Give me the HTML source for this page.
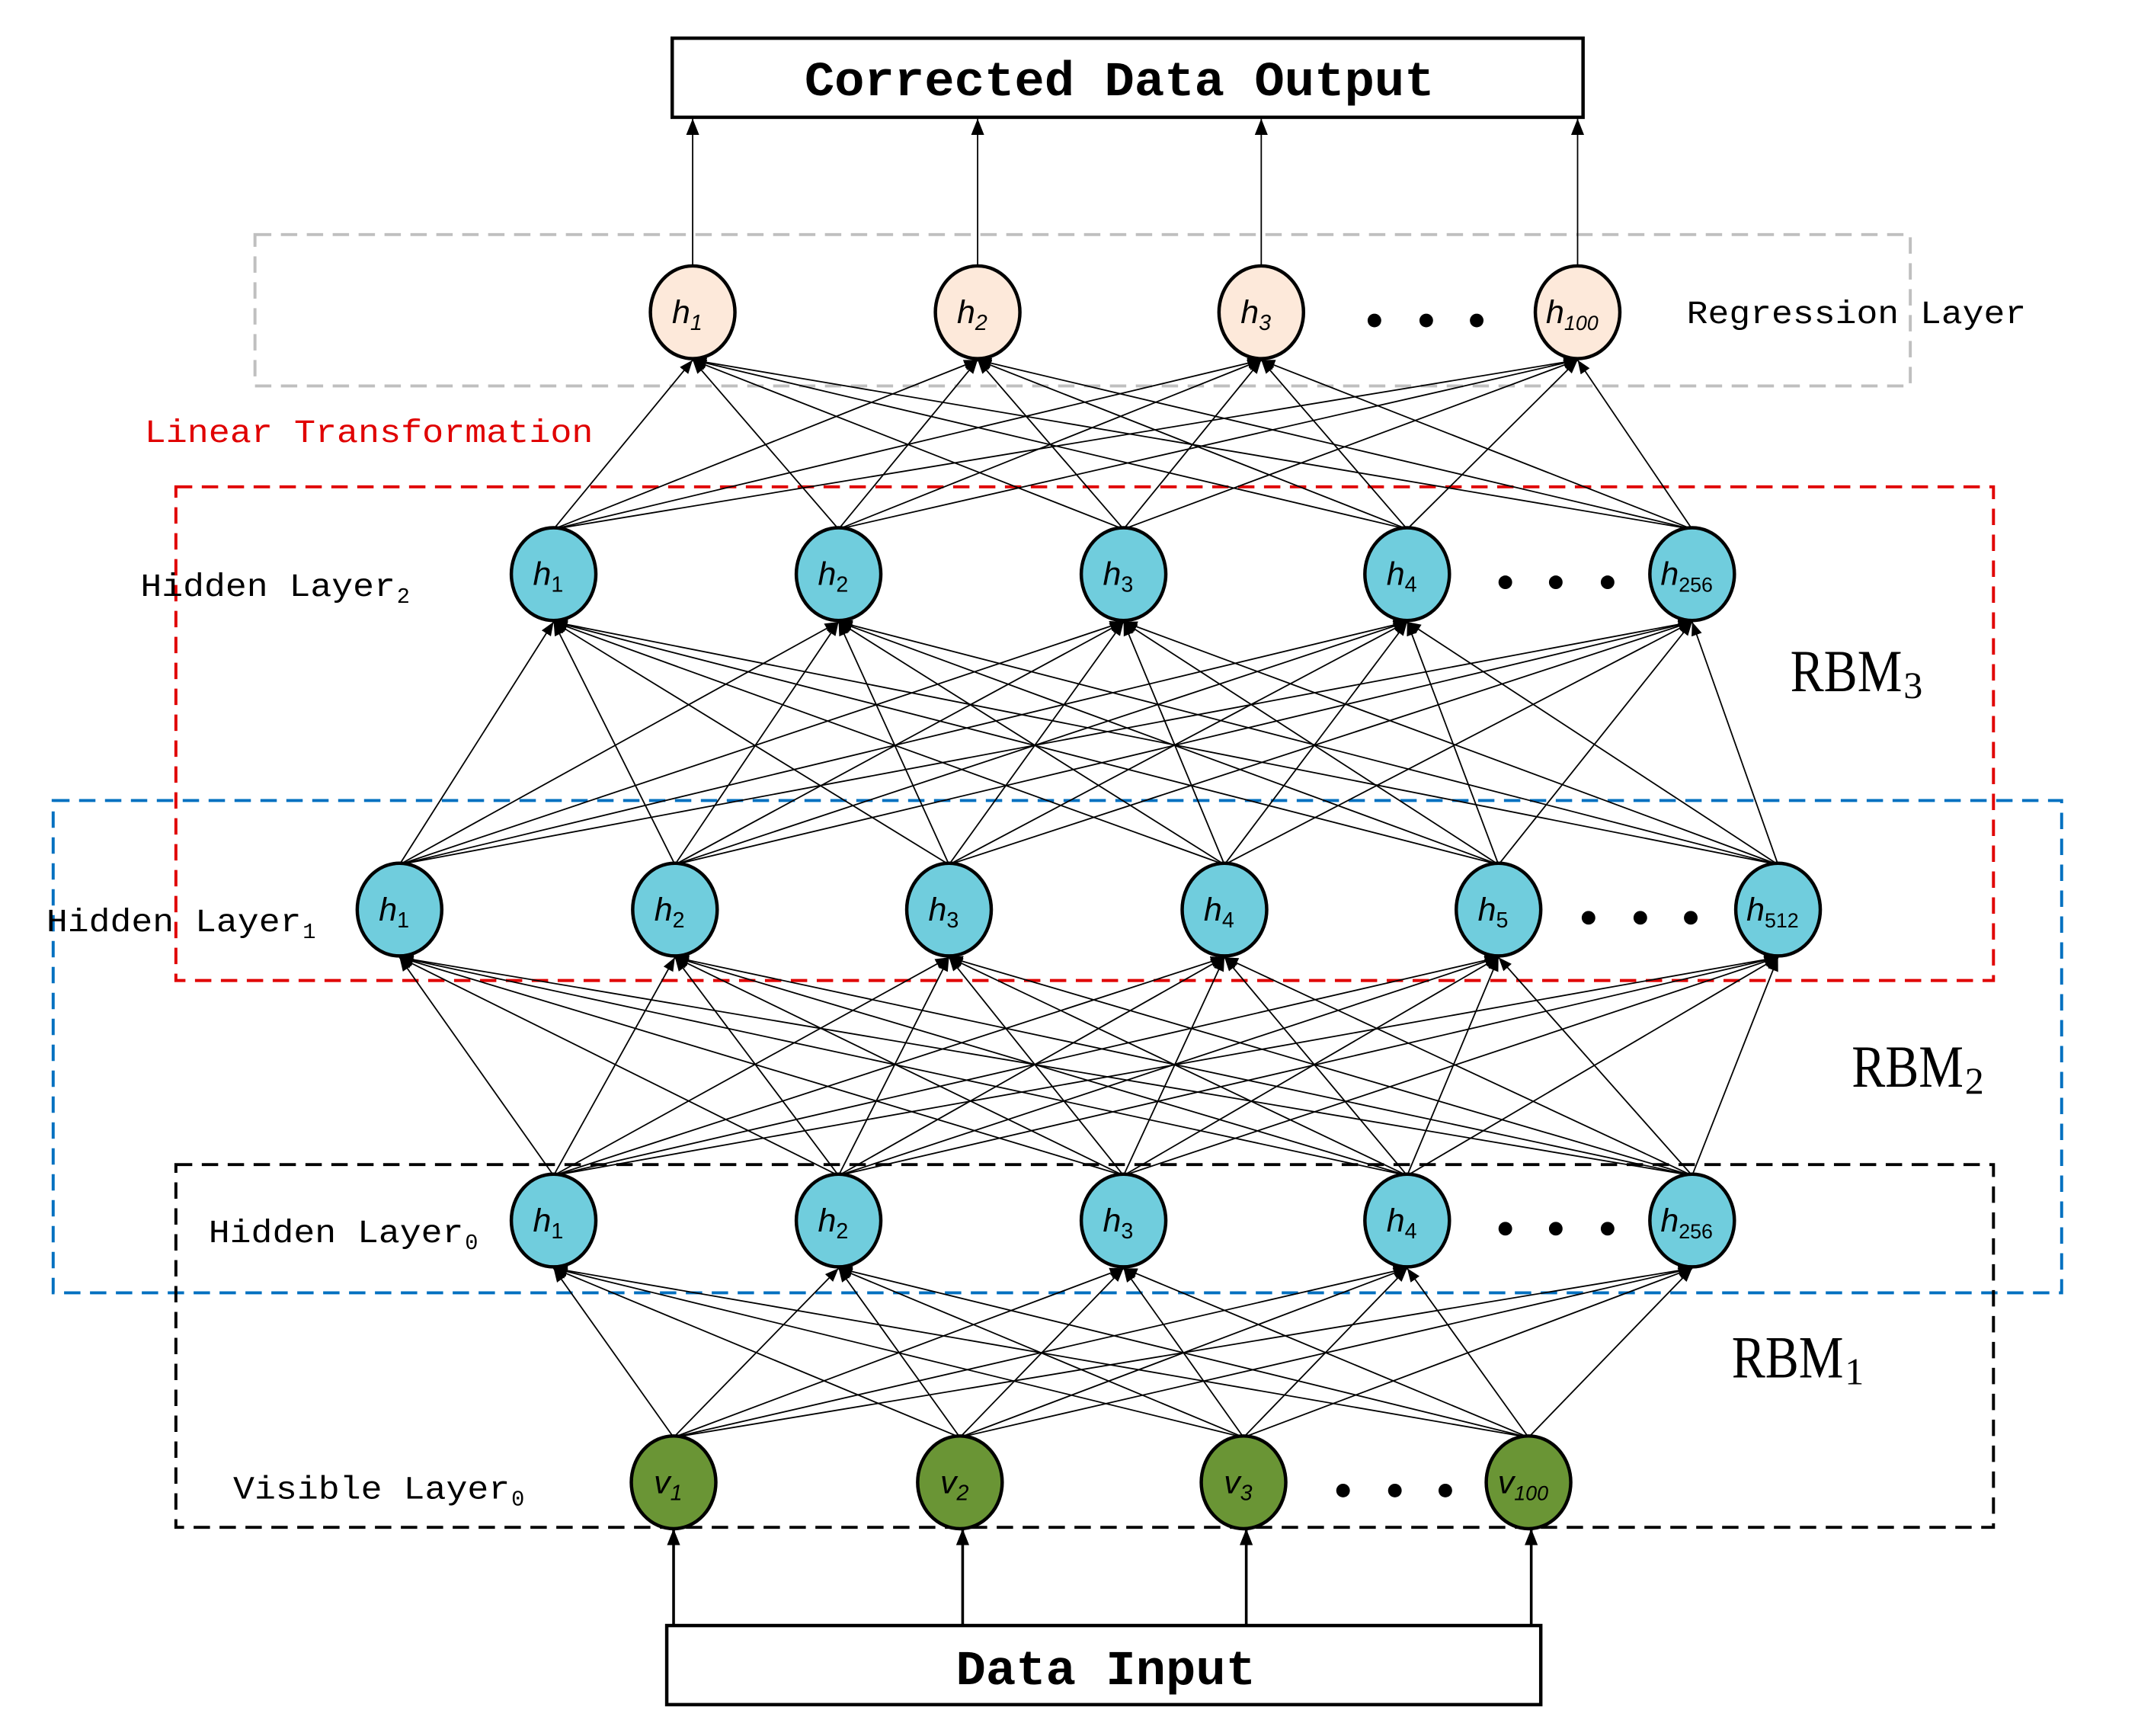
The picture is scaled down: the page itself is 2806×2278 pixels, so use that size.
<!DOCTYPE html>
<html><head><meta charset="utf-8"><style>
html,body{margin:0;padding:0;background:#fff;}
svg{display:block;}
</style></head><body>
<svg id="s" width="2806" height="2278" viewBox="0 0 1568 1273" preserveAspectRatio="none" xmlns="http://www.w3.org/2000/svg">
<defs>
<marker id="a" viewBox="0 0 10 10" refX="10" refY="5" markerWidth="10" markerHeight="10" markerUnits="userSpaceOnUse" orient="auto"><path d="M0,1 L10,5 L0,9 Z" fill="#000"/></marker>
<marker id="b" viewBox="0 0 10 10" refX="10" refY="5" markerWidth="12" markerHeight="12" markerUnits="userSpaceOnUse" orient="auto"><path d="M0,1 L10,5 L0,9 Z" fill="#000"/></marker>
</defs>
<g fill="none" stroke-width="2.2" stroke-dasharray="12,7">
<rect x="187" y="172" width="1214" height="111" stroke="#bfbfbf"/>
<rect x="129" y="357" width="1333" height="362" stroke="#e00000"/>
<rect x="39" y="587" width="1473" height="361" stroke="#0070c0"/>
<rect x="129" y="854" width="1333" height="266" stroke="#000"/>
</g>
<g id="edges" stroke="#000" stroke-width="1"></g>
<g id="nodes"></g>
<rect x="493" y="28" width="668" height="58" fill="#fff" stroke="#000" stroke-width="2.5"/>
<text x="821" y="70" text-anchor="middle" font-family="Liberation Mono, monospace" font-weight="bold" font-size="36" textLength="462" lengthAdjust="spacingAndGlyphs">Corrected Data Output</text>
<rect x="489" y="1192" width="641" height="58" fill="#fff" stroke="#000" stroke-width="2.5"/>
<text x="811" y="1235" text-anchor="middle" font-family="Liberation Mono, monospace" font-weight="bold" font-size="36" textLength="220" lengthAdjust="spacingAndGlyphs">Data Input</text>
<g font-family="Liberation Mono, monospace" font-size="24">
<text x="1237" y="237" textLength="249" lengthAdjust="spacingAndGlyphs">Regression Layer</text>
<text x="106" y="324" fill="#e00000" textLength="329" lengthAdjust="spacingAndGlyphs">Linear Transformation</text>
<text x="103" y="437" textLength="187" lengthAdjust="spacingAndGlyphs">Hidden Layer</text><text x="291" y="442" font-size="16">2</text>
<text x="34" y="683" textLength="187" lengthAdjust="spacingAndGlyphs">Hidden Layer</text><text x="222" y="688" font-size="16">1</text>
<text x="153" y="911" textLength="187" lengthAdjust="spacingAndGlyphs">Hidden Layer</text><text x="341" y="916" font-size="16">0</text>
<text x="171" y="1099" textLength="203" lengthAdjust="spacingAndGlyphs">Visible Layer</text><text x="375" y="1104" font-size="16">0</text>
</g>
<g font-family="Liberation Serif, serif" font-size="44">
<text x="1313" y="507" textLength="82" lengthAdjust="spacingAndGlyphs">RBM</text><text x="1396" y="512" font-size="28">3</text>
<text x="1358" y="797" textLength="82" lengthAdjust="spacingAndGlyphs">RBM</text><text x="1441" y="802" font-size="28">2</text>
<text x="1270" y="1010" textLength="82" lengthAdjust="spacingAndGlyphs">RBM</text><text x="1353" y="1015" font-size="28">1</text>
</g>
</svg>
<script>
var NS="http://www.w3.org/2000/svg";
var E=document.getElementById('edges'),N=document.getElementById('nodes');
function el(t,a,p){var e=document.createElementNS(NS,t);for(var k in a)e.setAttribute(k,a[k]);(p||N).appendChild(e);return e;}
var RY=34,RX=31;
var L=[
 {y:1087,xs:[494,704,912,1121],c:'#6a9535',l:'v',s:['1','2','3','100'],it:true,dots:[985,1023,1060]},
 {y:895,xs:[406,615,824,1032,1241],c:'#70cddd',l:'h',s:['1','2','3','4','256'],dots:[1104,1141,1179]},
 {y:667,xs:[293,495,696,898,1099,1304],c:'#70cddd',l:'h',s:['1','2','3','4','5','512'],dots:[1165,1203,1240]},
 {y:421,xs:[406,615,824,1032,1241],c:'#70cddd',l:'h',s:['1','2','3','4','256'],dots:[1104,1141,1179]},
 {y:229,xs:[508,717,925,1157],c:'#fde9da',l:'h',s:['1','2','3','100'],it:true,dots:[1008,1046,1083]}
];
for(var i=0;i<L.length-1;i++){var lo=L[i],up=L[i+1];
 lo.xs.forEach(function(x1){up.xs.forEach(function(x2){
  el('line',{x1:x1,y1:lo.y-RY+1,x2:x2,y2:up.y+RY+1,'marker-end':'url(#a)'},E);});});}
L[4].xs.forEach(function(x){el('line',{x1:x,y1:229-RY,x2:x,y2:87,'marker-end':'url(#b)'},E);});
[494,706,914,1123].forEach(function(x){el('line',{x1:x,y1:1192,x2:x,y2:1121,'stroke-width':2,'marker-end':'url(#b)'},E);});
L.forEach(function(ly){
 ly.xs.forEach(function(x,j){
  el('ellipse',{cx:x,cy:ly.y,rx:RX,ry:RY,fill:ly.c,stroke:'#000','stroke-width':2.5});
  var t=el('text',{x:x-4,y:ly.y+8,'text-anchor':'middle','font-family':'Liberation Sans, sans-serif','font-size':24});
  var m=document.createElementNS(NS,'tspan');m.setAttribute('font-style','italic');m.textContent=ly.l;t.appendChild(m);
  var sb=document.createElementNS(NS,'tspan');sb.setAttribute('font-size',ly.s[j].length>1?15:16);sb.setAttribute('dy',5);
  if(ly.it)sb.setAttribute('font-style','italic');sb.textContent=ly.s[j];t.appendChild(sb);
 });
 ly.dots.forEach(function(x){el('circle',{cx:x,cy:ly.y+6,r:5,fill:'#000'});});
});
</script>
</body></html>
